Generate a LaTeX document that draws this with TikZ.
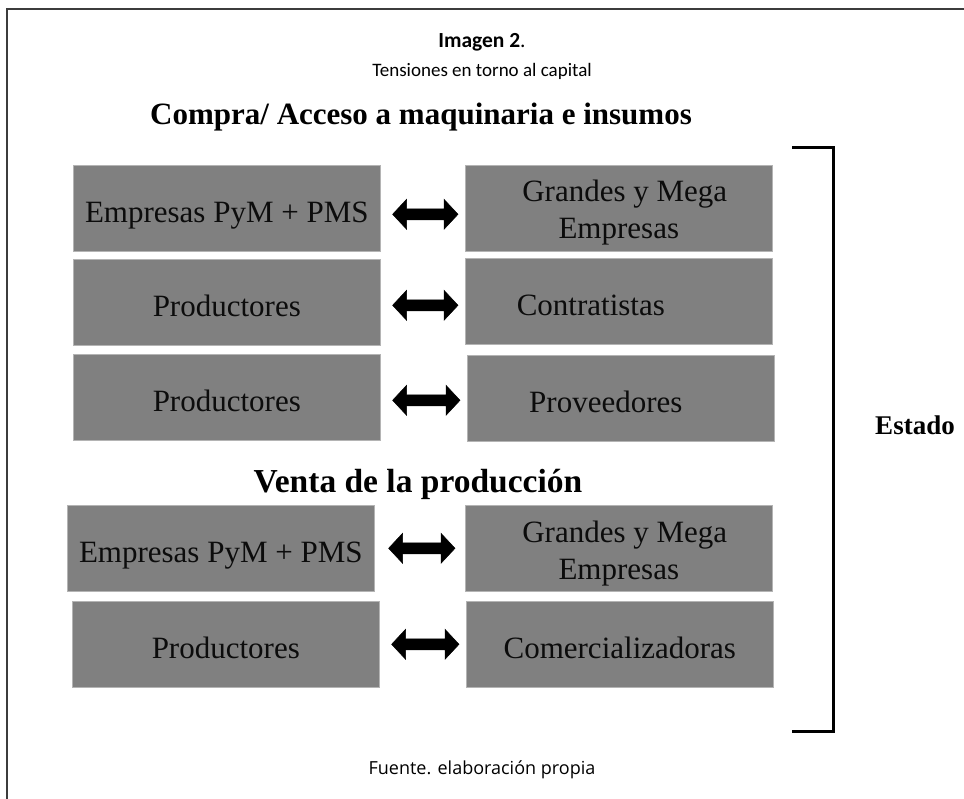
\documentclass[tikz,border=0pt]{standalone}
\usepackage{fontspec}
\setmainfont{Liberation Serif}
\newfontfamily\carlito{Carlito}
\newfontfamily\opensans{Open Sans}
\usetikzlibrary{calc}
\definecolor{boxgray}{HTML}{808080}
\definecolor{boxedge}{HTML}{B4B4B4}
\definecolor{txt}{HTML}{0C0C0C}
\definecolor{framec}{HTML}{3C3C3C}
\begin{document}
\begin{tikzpicture}[x=1pt,y=-1pt,
  boxbase/.style={anchor=north west, fill=boxgray, draw=boxedge, line width=0.6pt,
    minimum width=307pt, minimum height=86pt, inner sep=0pt, align=center,
    text=txt},
  box/.style={boxbase, font=\fontsize{31}{33}\selectfont, text height=28pt, text depth=0pt},
  boxtwo/.style={boxbase, font=\fontsize{31}{37}\selectfont},
  fatarrow/.style={fill=black, draw=black, line width=0.5pt, line join=miter},
  heading/.style={anchor=base, font=\bfseries\fontsize{31}{33}\selectfont},
]
\useasboundingbox (0,0) rectangle (964,799);
% outer frame
\draw[framec, line width=2pt] (7,820) -- (7,9) -- (990,9);
% titles
\node[anchor=base, font=\carlito\fontsize{21.5}{23}\selectfont] (t1) at (482,48) {\textbf{Imagen 2}.};
\node[anchor=base, font=\carlito\fontsize{19}{21}\selectfont] (t2) at (482,77) {Tensiones en torno al capital};
\node[heading] (h1) at (421,125) {Compra/ Acceso a maquinaria e insumos};
\node[heading, font=\bfseries\fontsize{33.5}{35}\selectfont] (h2) at (418,492) {Venta de la producción};
% boxes
\node[box] (L1) at (73,165) {Empresas PyM + PMS};
\node[boxtwo] (R1) at (465,165) {\rule{0pt}{31pt}\hspace*{12pt}Grandes y Mega\\Empresas};
\node[box] (L2) at (73,259) {Productores};
\node[box] (R2) at (465,258) {Contratistas\hspace*{56pt}};
\node[box] (L3) at (73,354) {Productores};
\node[box] (R3) at (467,355) {Proveedores\hspace*{30pt}};
\node[box] (L4) at (67,505) {Empresas PyM + PMS};
\node[boxtwo] (R4) at (465,505) {\rule{0pt}{31pt}\hspace*{12pt}Grandes y Mega\\Empresas};
\node[box] (L5) at (72,601) {Productores};
\node[box] (R5) at (466,601) {Comercializadoras};
% arrows (double-headed, drawn between the paired boxes)
\foreach \i/\dy/\ga/\gb in {1/-6/12/7,2/-3/12/7,3/-3/12/7,4/0/14/10,5/0/12/7}{
  \coordinate (s\i) at ([xshift=\ga pt,yshift=\dy pt]L\i.east);
  \coordinate (e\i) at ([xshift=-\gb pt,yshift=\dy pt]L\i.east -| R\i.west);
  \filldraw[fatarrow] (s\i) -- ($(s\i)+(14,-15)$) -- ($(s\i)+(14,-5.5)$)
    -- ($(e\i)+(-14,-5.5)$) -- ($(e\i)+(-14,-15)$) -- (e\i)
    -- ($(e\i)+(-14,15)$) -- ($(e\i)+(-14,5.5)$)
    -- ($(s\i)+(14,5.5)$) -- ($(s\i)+(14,15)$) -- cycle;
}
% bracket
\coordinate (bt) at (792,148);
\coordinate (bb) at (792,731);
\draw[line width=3pt] (bt) -- ++(41,0) -- ++(0,583) -- (bb);
\node[anchor=base, font=\bfseries\fontsize{27}{29}\selectfont] (estado) at (915,435) {Estado};
% footer
\node[anchor=base, font=\opensans\fontsize{18}{20}\selectfont] (foot) at (482,774) {Fuente. elaboración propia};
\end{tikzpicture}
\end{document}
